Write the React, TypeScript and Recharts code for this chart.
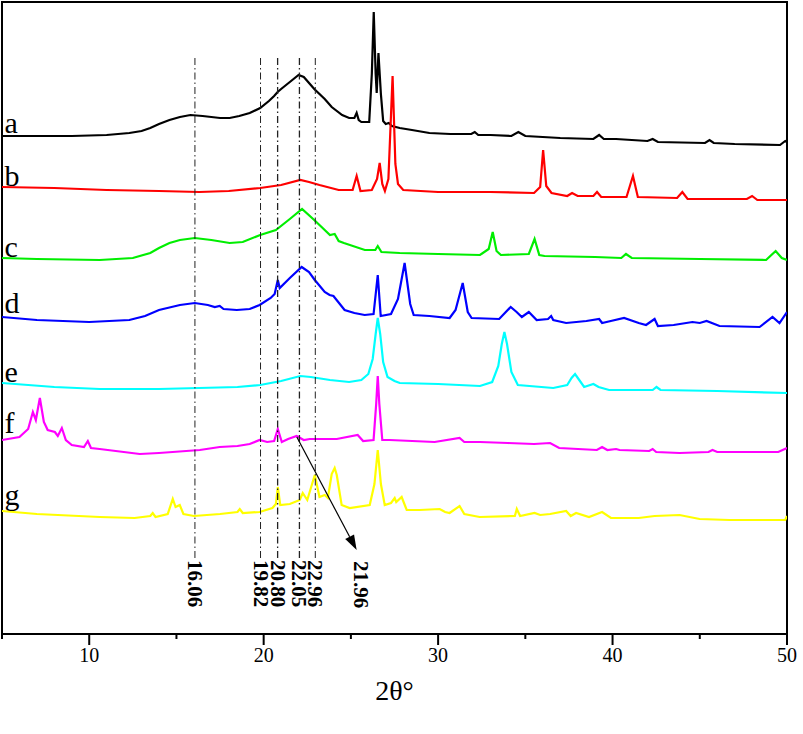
import React from 'react';
import { LineChart, Line, XAxis, YAxis, ReferenceLine, ReferenceArea, ReferenceDot } from 'recharts';

type Pt = [number, number];

// 2θ (deg) vs stacked intensity (a.u.)
const traceA: Pt[] = [
  [5, 498], [9, 498], [11, 499], [12.3, 501], [13.0, 503], [13.5, 506], [14.0, 510], [14.6, 514],
  [15.2, 517], [15.8, 519], [16.5, 518], [17.5, 516], [18.05, 516], [18.6, 518], [19.2, 521],
  [19.8, 526], [20.3, 533], [20.6, 538], [20.8, 542], [21.0, 545], [21.5, 552], [22.0, 559],
  [22.3, 557], [22.9, 545], [23.5, 535], [23.9, 527], [24.5, 519], [24.9, 516], [25.2, 516],
  [25.33, 521], [25.45, 514], [25.6, 512], [26.05, 512], [26.2, 560], [26.31, 622], [26.42, 560],
  [26.48, 541], [26.58, 581], [26.72, 540], [26.85, 513], [27.0, 510], [27.17, 511], [27.35, 508],
  [27.8, 506], [28.5, 504], [29.5, 501], [30.7, 500], [31.9, 500], [32.1, 502], [32.3, 499],
  [33.0, 499], [34.2, 498], [34.6, 502], [35.0, 498], [37.0, 496], [38.9, 495], [39.23, 499],
  [39.5, 495], [40.2, 495], [42.0, 493], [42.3, 495], [42.6, 492], [45.3, 491], [45.56, 494],
  [45.8, 491], [47.0, 490], [49.6, 489], [49.9, 493], [50, 492],
];

const traceB: Pt[] = [
  [5, 447], [8, 446], [11, 444], [14, 443], [16.3, 442], [18, 443], [19.8, 446], [21, 449],
  [22.1, 454], [22.6, 452], [23.2, 449], [24.3, 444], [25.1, 444], [25.33, 458], [25.55, 443],
  [26.2, 444], [26.5, 455], [26.65, 471], [26.8, 450], [26.95, 443], [27.15, 455], [27.39, 558],
  [27.55, 470], [27.7, 450], [28, 444], [30, 442], [33, 442], [35.5, 441], [35.85, 447],
  [36.02, 484], [36.2, 448], [36.5, 441], [37.4, 438], [37.68, 441], [38, 438], [38.9, 438],
  [39.11, 442], [39.35, 437], [40.8, 437], [41.17, 458], [41.45, 437], [43.7, 436], [44.0, 442],
  [44.3, 435], [47.7, 435], [48.0, 438], [48.3, 434], [50, 434],
];

const traceC: Pt[] = [
  [5, 376], [7, 375], [10.6, 374], [12.5, 376], [13.5, 381], [14.0, 386], [14.6, 391], [15.2, 394],
  [16.05, 396], [17, 394], [18.05, 391], [18.8, 392], [19.8, 399], [20.7, 404], [21.5, 415],
  [22.2, 425], [22.9, 414], [23.5, 404], [23.8, 399], [24.07, 400], [24.3, 393], [24.6, 391],
  [25.8, 384], [26.4, 384], [26.54, 388], [26.75, 382], [27.8, 381], [30, 380], [32.4, 379],
  [32.9, 385], [33.13, 402], [33.35, 383], [33.6, 379], [35.2, 380], [35.53, 395], [35.8, 379],
  [36.1, 378], [39, 377], [40.5, 376], [40.77, 380], [41.1, 376], [45, 375], [48.8, 374],
  [49.35, 383], [49.7, 376], [50, 374],
];

const traceD: Pt[] = [
  [5, 317], [7.0, 314], [10.0, 312], [12.3, 314], [13.2, 318], [14.0, 324], [15.2, 329], [16.05, 331],
  [16.8, 329], [17.2, 327], [17.48, 328], [17.7, 325], [18.46, 324], [19.2, 325], [19.77, 329],
  [20.4, 336], [20.63, 340], [20.81, 354], [20.92, 346], [21.5, 356], [22.18, 367], [22.6, 362],
  [22.93, 354], [23.5, 342], [23.78, 339], [24.0, 338], [24.64, 324], [25.2, 321], [25.79, 319],
  [26.3, 320], [26.54, 359], [26.71, 318], [27.3, 320], [27.7, 335], [28.08, 371], [28.4, 330],
  [28.6, 319], [29.5, 318], [30.66, 316], [31.0, 324], [31.41, 351], [31.7, 322], [31.92, 316],
  [33.5, 315], [34.16, 327], [34.5, 322], [34.8, 317], [35.2, 322], [35.65, 314], [36.3, 315],
  [36.48, 318], [36.6, 314], [37.34, 311], [38.5, 313], [39.23, 315], [39.4, 311], [39.9, 313],
  [40.66, 316], [41.5, 311], [41.92, 309], [42.41, 315], [42.6, 308], [43.5, 309], [44.58, 312],
  [45.0, 311], [45.39, 313], [46.13, 308], [48.43, 307], [49.17, 317], [49.57, 311], [50, 322],
];

const traceE: Pt[] = [
  [5, 251], [8, 247], [10.6, 245], [14, 245], [16.3, 246], [18.5, 247], [19.8, 249], [21.0, 253],
  [22.1, 258], [22.7, 257], [23.8, 254], [24.9, 252], [25.6, 254], [26.0, 260], [26.25, 275],
  [26.42, 300], [26.54, 316], [26.68, 300], [26.85, 272], [27.1, 257], [27.5, 253], [27.8, 251],
  [30, 250], [32.4, 248], [33.1, 252], [33.45, 268], [33.65, 290], [33.8, 302], [33.95, 290],
  [34.2, 262], [34.57, 249], [36.6, 246], [37.4, 249], [37.65, 256], [37.85, 260], [38.05, 255],
  [38.37, 247], [38.9, 250], [39.2, 247], [39.8, 244], [42.3, 244], [42.52, 247], [42.75, 244],
  [46, 243], [50, 241],
];

const traceF: Pt[] = [
  [5, 194], [6.0, 197], [6.5, 205], [6.77, 222], [6.94, 214], [7.17, 236], [7.4, 212], [7.62, 204],
  [8.03, 202], [8.2, 198], [8.43, 206], [8.66, 194], [9.0, 189], [9.7, 187], [9.92, 193],
  [10.1, 186], [10.6, 185], [12.9, 180], [14, 181], [16.34, 184], [17.48, 187], [18.5, 188],
  [19.2, 190], [19.77, 194], [20.2, 192], [20.6, 193], [20.81, 205], [21.04, 192], [21.4, 195],
  [21.89, 198], [22.3, 194], [22.64, 195], [24.19, 195], [25.39, 199], [25.7, 193], [26.3, 194],
  [26.45, 230], [26.54, 258], [26.63, 230], [26.8, 194], [27.22, 194], [29.8, 192], [31.23, 196],
  [31.5, 192], [32.4, 192], [34.0, 191], [35.5, 190], [36.42, 191], [36.94, 186], [39.1, 184],
  [39.4, 187], [39.7, 184], [40.2, 185], [40.4, 184], [42.1, 183], [42.3, 185], [42.5, 182],
  [43.84, 181], [45.5, 182], [45.73, 184], [46.0, 182], [49.5, 182], [50, 186],
];

const traceG: Pt[] = [
  [5, 123], [7, 120], [10.6, 117], [12.6, 116], [13.5, 118], [13.64, 121], [13.8, 117], [14.5, 120],
  [14.79, 135], [14.95, 127], [15.19, 129], [15.4, 120], [16.0, 118], [17.5, 120], [18.5, 122],
  [18.63, 125], [18.8, 121], [19.77, 122], [20.5, 126], [20.7, 130], [20.81, 147], [20.95, 129],
  [21.5, 130], [22.07, 134], [22.24, 141], [22.5, 134], [22.93, 159], [23.2, 137], [23.5, 139],
  [23.68, 136], [23.9, 160], [24.07, 166], [24.19, 159], [24.47, 129], [24.93, 126], [26.08, 129],
  [26.35, 150], [26.54, 184], [26.72, 150], [26.94, 129], [27.3, 131], [27.51, 136], [27.6, 132],
  [27.91, 137], [28.2, 124], [28.94, 124], [30.09, 125], [30.4, 122], [30.66, 121], [31.23, 128],
  [31.5, 120], [32.38, 117], [34.4, 118], [34.51, 125], [34.7, 118], [35.53, 121], [35.85, 119],
  [36.42, 120], [37.34, 123], [37.6, 118], [37.91, 121], [38.65, 117], [39.4, 122], [39.91, 116],
  [41.5, 116], [42.41, 118], [43.84, 119], [44.99, 115], [46.7, 114], [49.9, 114], [50, 118],
];

const traceNames = ['a', 'b', 'c', 'd', 'e', 'f', 'g'];
const traceColors = ['#000000', '#ff0000', '#00ee00', '#0000ff', '#00ffff', '#ff00ff', '#ffff00'];
const traces: Pt[][] = [traceA, traceB, traceC, traceD, traceE, traceF, traceG];
// baseline (a.u.) where each letter label sits
const letterLevels = [501, 448, 377, 321, 252, 201, 129];

const xTicks = [5, 10, 15, 20, 25, 30, 35, 40, 45, 50];
const markerPositions = [16.06, 19.82, 20.8, 22.05, 22.96];
const markerLabels = ['16.06', '19.82', '20.80', '22.05', '22.96'];
const markerWeights = [1, 1, 1.3, 1.3, 1];
const markerTop = 577;
const markerBottom = 76;
const arrowFrom = { x: 21.9, y: 197 };
const arrowTo = { x: 25.33, y: 84 };
const arrowLabel = { x: 25.59, y: 73, text: '21.96' };

const SERIF = "'Liberation Serif', 'Times New Roman', 'DejaVu Serif', serif";

const XTick = (props: any) => {
  const { x, y, payload } = props;
  const v = payload.value as number;
  const major = v % 10 === 0;
  return (
    <g>
      <line x1={x} x2={x} y1={y} y2={y + (major ? 11 : 5)} stroke="#000" strokeWidth={2} />
      {major && (
        <text x={x} y={y + 28} textAnchor="middle" fontFamily={SERIF} fontSize={20} fill="#000">
          {v}
        </text>
      )}
    </g>
  );
};

const Arrow = (p: any) => {
  const { x1, y1, x2, y2 } = p;
  const dx = x2 - x1;
  const dy = y2 - y1;
  const len = Math.hypot(dx, dy) || 1;
  const ux = dx / len;
  const uy = dy / len;
  const headLen = 15;
  const headW = 5;
  const bx = x2 - ux * headLen;
  const by = y2 - uy * headLen;
  const pts = `${x2},${y2} ${bx - uy * headW},${by + ux * headW} ${bx + uy * headW},${by - ux * headW}`;
  return (
    <g>
      <line x1={x1} y1={y1} x2={bx} y2={by} stroke="#000" strokeWidth={1.2} />
      <polygon points={pts} fill="#000" />
    </g>
  );
};

const vText = (text: string) => (p: any) => {
  const { cx, cy } = p;
  return (
    <text
      x={cx}
      y={cy}
      transform={`rotate(90 ${cx} ${cy})`}
      textAnchor="start"
      dominantBaseline="central"
      fontFamily={SERIF}
      fontWeight="bold"
      fontSize={21}
      fill="#000"
    >
      {text}
    </text>
  );
};

const letterText = (text: string) => (p: any) => {
  const { cx, cy } = p;
  return (
    <text x={cx} y={cy} textAnchor="start" fontFamily={SERIF} fontSize={30} fill="#000">
      {text}
    </text>
  );
};

export default function App() {
  return (
    <div style={{ position: 'absolute', left: 0, top: 0, width: 803, height: 734, background: '#fff' }}>
      <LineChart width={803} height={734} margin={{ top: 2, right: 16, bottom: 40, left: 2 }}>
        <XAxis
          dataKey="x"
          type="number"
          domain={[5, 50]}
          ticks={xTicks}
          interval={0}
          tick={<XTick />}
          tickLine={false}
          tickSize={0}
          tickMargin={0}
          axisLine={false}
          height={60}
          allowDataOverflow
          label={{
            content: (lp: any) => {
              const vb = lp.viewBox || { x: 2, y: 634, width: 785, height: 60 };
              return (
                <text
                  x={vb.x + vb.width / 2}
                  y={vb.y + 66}
                  textAnchor="middle"
                  fontFamily={SERIF}
                  fontSize={28}
                  fill="#000"
                >
                  2θ°
                </text>
              );
            },
          }}
        />
        <YAxis type="number" domain={[0, 632]} hide allowDataOverflow />
        {traces.map((t, i) => (
          <Line
            key={traceNames[i]}
            data={t.map(([x, y]) => ({ x, y }))}
            dataKey="y"
            type="linear"
            stroke={traceColors[i]}
            strokeWidth={2.2}
            dot={false}
            activeDot={false}
            isAnimationActive={false}
          />
        ))}
        {markerPositions.map((m, i) => (
          <ReferenceLine
            key={`m${i}`}
            segment={[{ x: m, y: markerBottom }, { x: m, y: markerTop }]}
            stroke="#222"
            strokeWidth={markerWeights[i]}
            strokeDasharray="7 3 1.5 3"
            ifOverflow="visible"
          />
        ))}
        {markerPositions.map((m, i) => (
          <ReferenceDot
            key={`ml${i}`}
            x={m}
            y={markerBottom - 2}
            r={1}
            ifOverflow="visible"
            shape={vText(markerLabels[i])}
          />
        ))}
        <ReferenceLine
          segment={[arrowFrom, arrowTo]}
          ifOverflow="visible"
          shape={Arrow}
        />
        <ReferenceDot
          x={arrowLabel.x}
          y={arrowLabel.y}
          r={1}
          ifOverflow="visible"
          shape={vText(arrowLabel.text)}
        />
        {traceNames.map((n, i) => (
          <ReferenceDot
            key={`l${n}`}
            x={5.15}
            y={letterLevels[i]}
            r={1}
            ifOverflow="visible"
            shape={letterText(n)}
          />
        ))}
        <ReferenceArea
          x1={5}
          x2={50}
          y1={0}
          y2={632}
          fill="none"
          fillOpacity={0}
          stroke="#000"
          strokeWidth={2}
          ifOverflow="visible"
        />
      </LineChart>
    </div>
  );
}
